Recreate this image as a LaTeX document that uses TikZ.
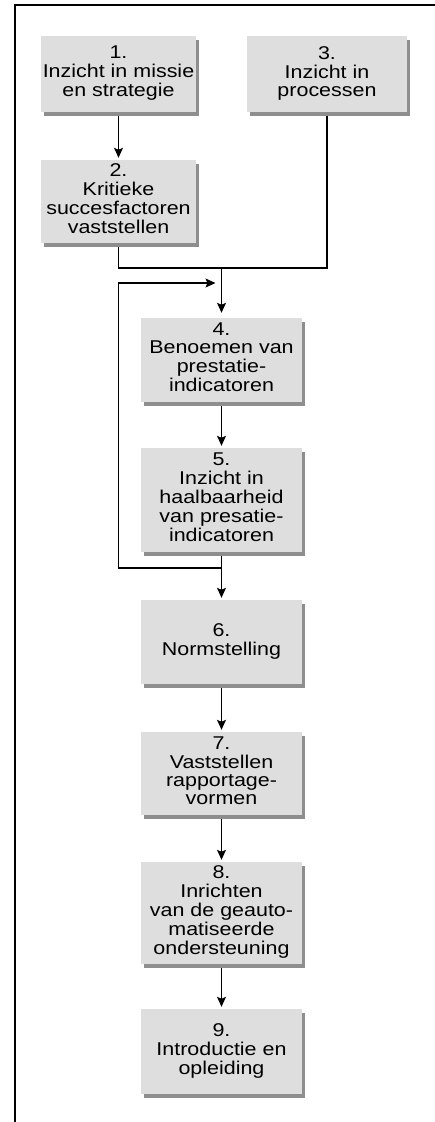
\documentclass[tikz,border=0pt]{standalone}
\usepackage{fontspec}
\setmainfont{Liberation Sans}
\usepackage{graphicx}
\usepackage{xcolor}
\usepackage{tikz}
\usetikzlibrary{arrows.meta,shadows,backgrounds}

\definecolor{boxgray}{HTML}{DEDEDE}
\definecolor{shadegray}{HTML}{8E8E8E}
\newcommand{\boxtext}[1]{\scalebox{1.16}[1]{\begin{tabular}{@{}c@{}}#1\end{tabular}}}

\begin{document}
\begin{tikzpicture}[x=1pt, y=-1pt,
	stepbox/.style={fill=boxgray, align=center, inner sep=0pt, text=black,
		general shadow={fill=shadegray, shadow xshift=3pt, shadow yshift=-4pt},
		font=\fontsize{18.5}{18.3}\selectfont},
	link/.style={line width=1.1pt, color=black},
	flow/.style={link, -{Stealth[length=10pt,width=9pt,inset=2pt]}, shorten <=4pt, shorten >=2pt}]
	\useasboundingbox (0,0) rectangle (435,1122);
	% frame
	\draw[line width=1.6pt] (15,1122) -- (15,5) -- (435,5);
	% boxes
	\node[stepbox, minimum width=155pt, minimum height=76pt] (b1) at (118.5,74) {\boxtext{1.\\Inzicht in missie\\en strategie}};
	\node[stepbox, minimum width=160pt, minimum height=76pt] (b3) at (327,74) {\boxtext{3.\\Inzicht in\\processen}};
	\node[stepbox, minimum width=155pt, minimum height=83pt] (b2) at (118.5,201.5) {\boxtext{2.\\Kritieke\\succesfactoren\\vaststellen}};
	\node[stepbox, minimum width=161pt, minimum height=84pt] (b4) at (221.5,360) {\boxtext{4.\\Benoemen van\\prestatie-\\indicatoren}};
	\node[stepbox, minimum width=161pt, minimum height=104pt] (b5) at (221.5,500) {\boxtext{5.\\Inzicht in\\haalbaarheid\\van presatie-\\indicatoren}};
	\node[stepbox, minimum width=161pt, minimum height=84pt] (b6) at (221.5,642) {\raisebox{6pt}{\boxtext{6.\\Normstelling}}};
	\node[stepbox, minimum width=161pt, minimum height=83pt] (b7) at (221.5,773.5) {\boxtext{7.\\Vaststellen\\rapportage-\\vormen}};
	\node[stepbox, minimum width=161pt, minimum height=102pt] (b8) at (221.5,913) {\boxtext{8.\\Inrichten\\van de geauto-\\matiseerde\\ondersteuning}};
	\node[stepbox, minimum width=161pt, minimum height=85pt] (b9) at (221.5,1051.5) {\boxtext{9.\\Introductie en\\opleiding}};
	% connectors
	\coordinate (join) at (221.5,268);
	\coordinate (back) at (221.5,568);
	\coordinate (backl) at (118.5,283);
	\coordinate (backr) at (221.5,283);
	\begin{scope}[on background layer]
		\draw[flow] (b1) -- (b2);
		\draw[link] (b2.south) |- (join) -| (b3.south);
		\draw[flow, shorten <=0pt, shorten >=5pt] (join) -- (b4);
		\draw[flow] (b4) -- (b5);
		\draw[link] (b5.south) -- (back);
		\draw[flow, shorten <=0pt, shorten >=6pt] (back) -| (backl) -- (backr);
		\draw[flow, shorten <=0pt] (back) -- (b6);
		\draw[flow] (b6) -- (b7);
		\draw[flow] (b7) -- (b8);
		\draw[flow] (b8) -- (b9);
	\end{scope}
\end{tikzpicture}
\end{document}
